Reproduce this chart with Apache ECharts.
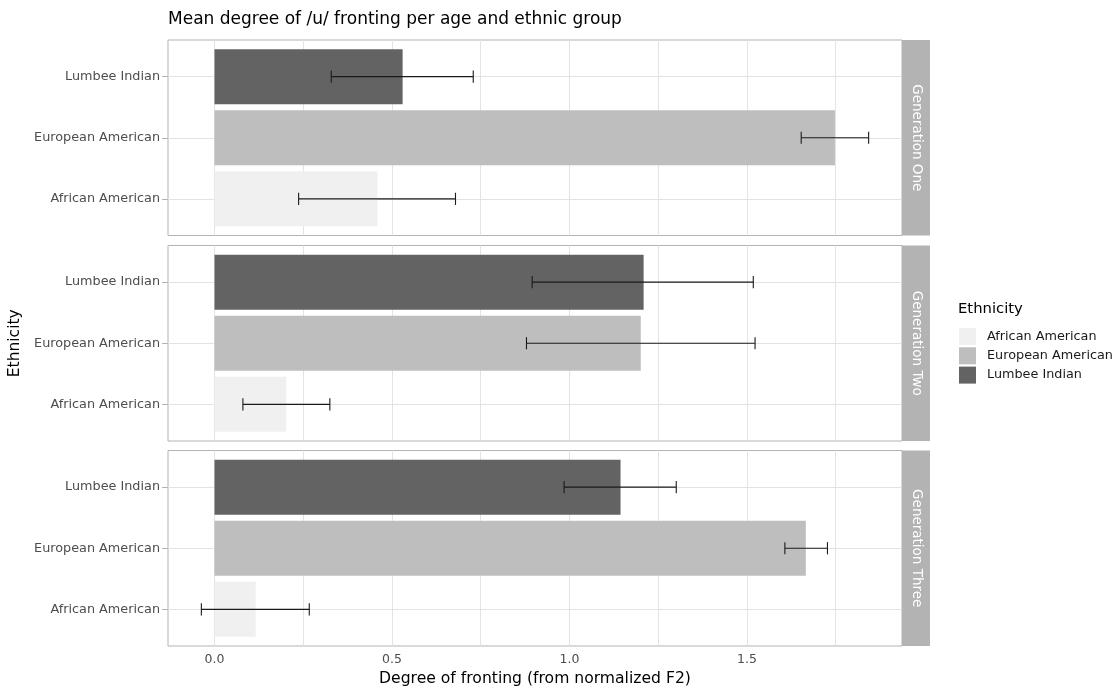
<!DOCTYPE html>
<html>
<head>
<meta charset="utf-8">
<script src="https://cdn.jsdelivr.net/npm/echarts@6/dist/echarts.min.js"></script>
<style>
html,body{margin:0;padding:0;background:#fff;}
#chart{width:1120px;height:691px;}
</style>
</head>
<body>
<div id="chart"></div>
<script>
// ---- data ----
const generations = ['Generation One', 'Generation Two', 'Generation Three'];
const ethnicities = ['African American', 'European American', 'Lumbee Indian'];
const ethnicityColors = ['#F0F0F0', '#BEBEBE', '#636363'];

// means per generation (One, Two, Three)
const africanMean   = [0.459, 0.202, 0.116];
const europeanMean  = [1.748, 1.201, 1.666];
const lumbeeMean    = [0.530, 1.209, 1.144];
// error bar lower bounds
const africanLow    = [0.237, 0.080, -0.037];
const europeanLow   = [1.653, 0.879, 1.607];
const lumbeeLow     = [0.329, 0.895, 0.985];
// error bar upper bounds
const africanHigh   = [0.679, 0.325, 0.267];
const europeanHigh  = [1.843, 1.523, 1.727];
const lumbeeHigh    = [0.729, 1.518, 1.301];

const xTickValues = [0, 0.5, 1, 1.5];
const xTickLabels = ['0.0', '0.5', '1.0', '1.5'];
const xGridValues = [0, 0.25, 0.5, 0.75, 1, 1.25, 1.5, 1.75];

const titleText = 'Mean degree of /u/ fronting per age and ethnic group';
const xAxisTitle = 'Degree of fronting (from normalized F2)';
const yAxisTitle = 'Ethnicity';
const legendTitle = 'Ethnicity';

// ---- derived ----
const means = [africanMean, europeanMean, lumbeeMean];
const lows = [africanLow, europeanLow, lumbeeLow];
const highs = [africanHigh, europeanHigh, lumbeeHigh];
let lo = 0, hi = 0;
for (let e = 0; e < 3; e++) for (let g = 0; g < 3; g++) {
  lo = Math.min(lo, lows[e][g], means[e][g]);
  hi = Math.max(hi, highs[e][g], means[e][g]);
}
const pad = (hi - lo) * 0.05;
const xMin = lo - pad, xMax = hi + pad;

// layout
const panelLeft = 168, panelRight = 902, stripW = 28;
const panelTops = [40, 245.5, 450.5], panelH = 195.5;
const FONT = 'DejaVu Sans';

function barRender(params, api) {
  const v = api.value(0), c = api.value(1);
  const p0 = api.coord([0, c]);
  const p1 = api.coord([v, c]);
  const h = api.size([0, 0.9])[1];
  return {
    type: 'rect',
    shape: { x: Math.min(p0[0], p1[0]), y: p0[1] - h / 2, width: Math.abs(p1[0] - p0[0]), height: h },
    style: { fill: api.visual('color') }
  };
}
function errRender(params, api) {
  const a = api.coord([api.value(0), api.value(2)]);
  const b = api.coord([api.value(1), api.value(2)]);
  const h = api.size([0, 0.2])[1];
  const st = { stroke: '#1a1a1a', lineWidth: 1.1 };
  return {
    type: 'group',
    children: [
      { type: 'line', shape: { x1: a[0], y1: a[1], x2: b[0], y2: b[1] }, style: st },
      { type: 'line', shape: { x1: a[0], y1: a[1] - h / 2, x2: a[0], y2: a[1] + h / 2 }, style: st },
      { type: 'line', shape: { x1: b[0], y1: b[1] - h / 2, x2: b[0], y2: b[1] + h / 2 }, style: st }
    ]
  };
}

const grids = [], xAxes = [], yAxes = [], series = [], graphics = [];
for (let g = 0; g < 3; g++) {
  grids.push({ left: panelLeft, top: panelTops[g], width: panelRight - panelLeft, height: panelH,
    containLabel: false, outerBoundsMode: 'none',
    show: true, borderColor: '#b3b3b3', borderWidth: 1, backgroundColor: 'transparent' });
  xAxes.push({
    gridIndex: g, type: 'value', min: xMin, max: xMax,
    axisLine: { show: false, onZero: false },
    axisTick: { show: false, customValues: xGridValues },
    axisLabel: { show: g === 2, customValues: xTickValues,
      formatter: v => xTickLabels[xTickValues.indexOf(v)],
      color: '#4d4d4d', fontFamily: FONT, fontSize: 12.5, margin: 7 },
    splitLine: { show: true, lineStyle: { color: '#e3e3e3', width: 1 } },
    name: g === 2 ? xAxisTitle : '', nameLocation: 'middle', nameGap: 25,
    nameTextStyle: { color: '#000', fontFamily: FONT, fontSize: 15.6 }
  });
  yAxes.push({
    gridIndex: g, type: 'value', min: 0.4, max: 3.6,
    axisLine: { show: false, onZero: false },
    axisTick: { show: true, length: 6, customValues: [1, 2, 3], lineStyle: { color: '#b3b3b3' } },
    axisLabel: { customValues: [1, 2, 3], formatter: v => ethnicities[v - 1],
      color: '#4d4d4d', fontFamily: FONT, fontSize: 12.8, margin: 8 },
    splitLine: { show: true, lineStyle: { color: '#e3e3e3', width: 1 } },
    name: g === 1 ? yAxisTitle : '', nameLocation: 'middle', nameGap: 141, nameRotate: 90,
    nameTextStyle: { color: '#000', fontFamily: FONT, fontSize: 15.5 }
  });
  for (let e = 0; e < 3; e++) {
    series.push({
      type: 'custom', name: ethnicities[e], xAxisIndex: g, yAxisIndex: g,
      renderItem: barRender, itemStyle: { color: ethnicityColors[e] },
      encode: { x: 0, y: 1 }, data: [[means[e][g], e + 1]], z: 2
    });
  }
  const errData = [];
  for (let e = 0; e < 3; e++) errData.push([lows[e][g], highs[e][g], e + 1]);
  series.push({
    type: 'custom', name: 'err' + g, xAxisIndex: g, yAxisIndex: g,
    renderItem: errRender, encode: { x: [0, 1], y: 2 }, data: errData, z: 3, silent: true
  });
  graphics.push({ type: 'rect', shape: { x: panelRight, y: panelTops[g], width: stripW, height: panelH },
    style: { fill: '#b3b3b3' }, silent: true });
  graphics.push({ type: 'text', x: panelRight + stripW / 2, y: panelTops[g] + panelH / 2, rotation: -Math.PI / 2,
    style: { text: generations[g], fill: '#ffffff', font: '13.5px "' + FONT + '"', align: 'center', verticalAlign: 'middle' },
    silent: true });
}
graphics.push({ type: 'text', left: 168, top: 11,
  style: { text: titleText, fill: '#000', font: '17px "' + FONT + '"' } });
graphics.push({ type: 'text', left: 958, top: 302,
  style: { text: legendTitle, fill: '#000', font: '14.8px "' + FONT + '"' } });

const chart = echarts.init(document.getElementById('chart'), null, { renderer: 'canvas' });
chart.setOption({
  animation: false,
  backgroundColor: '#ffffff',
  grid: grids, xAxis: xAxes, yAxis: yAxes, series: series,
  legend: {
    data: ethnicities.map(n => ({ name: n, icon: 'rect' })),
    orient: 'vertical', left: 959, top: 328, padding: 0, itemWidth: 17, itemHeight: 17, itemGap: 2.3,
    textStyle: { color: '#1a1a1a', fontFamily: FONT, fontSize: 12.8, padding: [0, 0, 0, 6] },
    selectedMode: false
  },
  graphic: graphics
});
</script>
</body>
</html>
